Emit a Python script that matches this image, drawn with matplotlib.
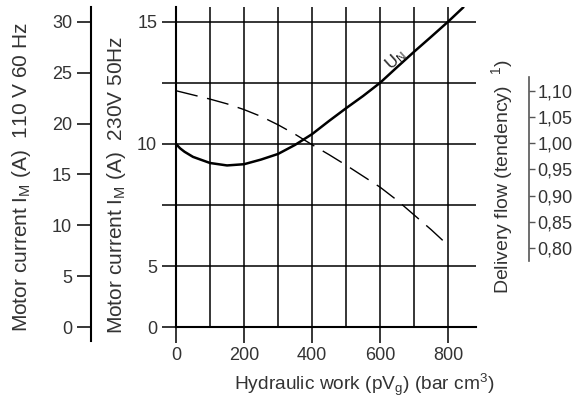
import matplotlib
matplotlib.use("Agg")
import matplotlib.pyplot as plt
import numpy as np

plt.rcParams['font.family'] = ['Liberation Sans', 'DejaVu Sans']
plt.rcParams['mathtext.fontset'] = 'custom'
plt.rcParams['mathtext.rm'] = 'Liberation Sans'
plt.rcParams['mathtext.it'] = 'Liberation Sans:italic'

# ---- data ----
work_motor = [0, 12, 25, 50, 100, 150, 200, 250, 300, 350, 400, 450, 500, 550, 600, 650, 700, 750, 800, 845]
current_230 = [10.00, 9.82, 9.68, 9.47, 9.22, 9.12, 9.17, 9.36, 9.59, 9.96, 10.40, 10.94, 11.46, 11.96, 12.50,
               13.14, 13.77, 14.38, 15.00, 15.59]

work_flow = [0, 50, 100, 150, 200, 250, 300, 350, 400, 450, 500, 550, 600, 650, 700, 750, 800]
delivery_flow = [1.100, 1.092, 1.084, 1.075, 1.064, 1.051, 1.035, 1.017, 0.997, 0.978, 0.958, 0.937,
                 0.916, 0.891, 0.863, 0.835, 0.805]

x_major = [0, 200, 400, 600, 800]
x_minor = [100, 300, 500, 700]
y230_ticks = [2.5, 5, 10, 15]          # bottom line of the broken axis is labelled 0
y230_labels = ['0', '5', '10', '15']
y230_minor = [7.5, 12.5]
y110_ticks = [0, 5, 10, 15, 20, 25, 30]
flow_ticks = [0.80, 0.85, 0.90, 0.95, 1.00, 1.05, 1.10]
flow_labels = ['0,80', '0,85', '0,90', '0,95', '1,00', '1,05', '1,10']

W, H = 581, 403
fig = plt.figure(figsize=(W / 100, H / 100), dpi=100)
L, R, T, B = 176, 476, 7, 327.3
ax = fig.add_axes([L / W, 1 - B / H, (R - L) / W, (B - T) / H])

txt = '#333333'
fs = 13

# main axes (230 V)
ax.set_xlim(0, 882)
ax.set_ylim(2.5, 15.6)
ax.set_xticks(x_major)
ax.set_xticks(x_minor, minor=True)
ax.set_yticks(y230_ticks)
ax.set_yticklabels(y230_labels)
ax.set_yticks(y230_minor, minor=True)
ax.grid(True, which='both', color='black', lw=1.1)
ax.set_axisbelow(True)
for s in ['top', 'right']:
    ax.spines[s].set_visible(False)
for s in ['left', 'bottom']:
    ax.spines[s].set_linewidth(1.5)
ax.tick_params(axis='x', which='major', length=11.5, width=1.1, pad=3, labelsize=fs, labelcolor=txt)
ax.tick_params(axis='x', which='minor', length=0)
ax.tick_params(axis='y', which='both', length=10, width=1.1, pad=3.5, labelsize=fs, labelcolor=txt)

ax.plot(work_motor, current_230, color='black', lw=1.8, solid_capstyle='round')
ax.text(646, 13.45, r'U$_\mathrm{N}$', rotation=42, ha='center', va='center',
        fontsize=12, color='#222222')

# right axis: delivery flow
# 1.10 at y=90.7 px, 0.80 at y=248 px (26.2 px per 0.05)
ax2 = ax.twinx()
ax2.set_ylim(0.80 - (B - 248) / 26.2 * 0.05, 1.10 + (90.7 - T) / 26.2 * 0.05)
for s in ['top', 'left', 'bottom']:
    ax2.spines[s].set_visible(False)
ax2.spines['right'].set_position(('outward', 38.5))
ax2.spines['right'].set_bounds(0.775, 1.126)
ax2.spines['right'].set_color('#555555')
ax2.spines['right'].set_linewidth(1.2)
ax2.set_yticks(flow_ticks)
ax2.set_yticklabels(flow_labels)
ax2.tick_params(axis='y', length=4.3, width=1.0, color='#555555', pad=1.5, labelsize=fs, labelcolor=txt)
ax2.plot(work_flow, delivery_flow, color='black', lw=1.0, dashes=(16, 7))

# far left axis: 110 V 60 Hz
ax3 = ax.twinx()
ax3.set_ylim(0, 31.44)
for s in ['top', 'right', 'bottom']:
    ax3.spines[s].set_visible(False)
ax3.spines['left'].set_visible(True)
ax3.spines['left'].set_position(('outward', 61.4))
ax3.spines['left'].set_bounds(-1.37, 31.44)
ax3.spines['left'].set_linewidth(1.5)
ax3.yaxis.set_ticks_position('left')
ax3.yaxis.set_label_position('left')
ax3.set_yticks(y110_ticks)
ax3.tick_params(axis='y', length=10, width=1.1, pad=3.5, labelsize=fs, labelcolor=txt)

# labels
def fxy(px, py):
    return px / W, 1 - py / H

fig.text(*fxy(22, 177.5), r'Motor current I$_\mathrm{M}$ (A)  110 V 60 Hz', rotation=90,
         ha='center', va='center', fontsize=15, color=txt)
fig.text(*fxy(117, 185), r'Motor current I$_\mathrm{M}$ (A)  230V 50Hz', rotation=90,
         ha='center', va='center', fontsize=15, color=txt)
fig.text(*fxy(502, 177), r'Delivery flow (tendency)  $^\mathrm{1}$)', rotation=90,
         ha='center', va='center', fontsize=14, color=txt)
fig.text(*fxy(364, 385), r'Hydraulic work (pV$_\mathrm{g}$) (bar cm$^\mathrm{3}$)',
         ha='center', va='center', fontsize=13.8, color=txt)

fig.savefig('out.png', dpi=100)
